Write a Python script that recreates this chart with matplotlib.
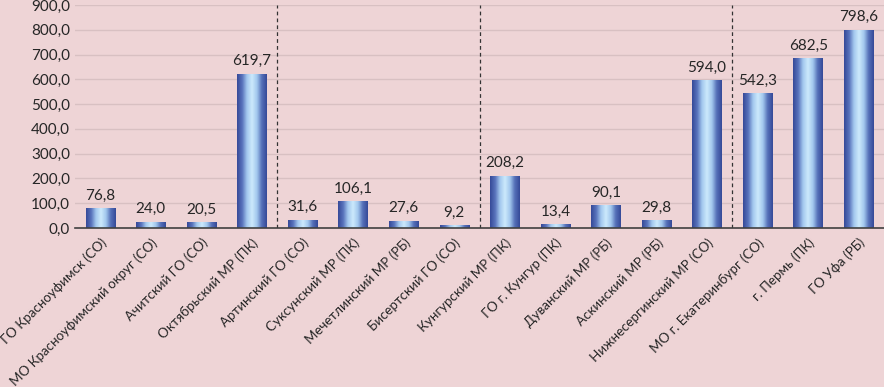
import matplotlib
matplotlib.use('Agg')
import matplotlib.pyplot as plt
import numpy as np
from matplotlib.colors import LinearSegmentedColormap

plt.rcParams['font.family'] = ['Lato', 'Open Sans', 'DejaVu Sans']

# data
names = ['ГО Красноуфимск (СО)', 'МО Красноуфимский округ (СО)', 'Ачитский ГО (СО)',
         'Октябрьский МР (ПК)', 'Артинский ГО (СО)', 'Суксунский МР (ПК)',
         'Мечетлинский МР (РБ)', 'Бисертский ГО (СО)', 'Кунгурский МР (ПК)',
         'ГО г. Кунгур (ПК)', 'Дуванский МР (РБ)', 'Аскинский МР (РБ)',
         'Нижнесергинский МР (СО)', 'МО г. Екатеринбург (СО)', 'г. Пермь (ПК)',
         'ГО Уфа (РБ)']
values = [76.8, 24.0, 20.5, 619.7, 31.6, 106.1, 27.6, 9.2,
          208.2, 13.4, 90.1, 29.8, 594.0, 542.3, 682.5, 798.6]
separators = [3.5, 7.5, 12.5]
yticks = [0, 100, 200, 300, 400, 500, 600, 700, 800, 900]

bg = '#eed4d6'
# shaded cylinder look of the bars
cyl = LinearSegmentedColormap.from_list(
    'cyl', ['#364a99', '#5872bb', '#a3c8ee', '#cdeafc', '#a3c8ee', '#5570b8', '#364a99'])
grad = np.linspace(0, 1, 64).reshape(1, -1)

fig = plt.figure(figsize=(8.84, 3.87), dpi=100, facecolor=bg)
ax = fig.add_axes([75 / 884, 1 - 228 / 387, 809 / 884, 223 / 387])
ax.set_facecolor(bg)

x = np.arange(len(values))
w = 0.58
bars = ax.bar(x, values, width=w, color='none', edgecolor='none', zorder=3)
for b in bars:
    x0, y0 = b.get_x(), b.get_y()
    ax.imshow(grad, cmap=cyl, aspect='auto', zorder=3,
              extent=[x0, x0 + b.get_width(), y0, y0 + b.get_height()])
for i, v in enumerate(values):
    ax.text(i, v + 25, f'{v:.1f}'.replace('.', ','), ha='center', va='bottom',
            fontsize=11, color='#262626', zorder=4)

for s in separators:
    ax.axvline(s, color='#333333', lw=0.9, ls=(0, (3, 2.5)), zorder=2)

ax.set_xlim(-0.5, len(values) - 0.5)
ax.set_ylim(0, 900)
ax.set_yticks(yticks)
ax.set_yticklabels([f'{t:.1f}'.replace('.', ',') for t in yticks], fontsize=11, color='#262626')
ax.grid(axis='y', color='#d8c0c2', lw=1, zorder=0)
ax.set_xticks(x)
ax.set_xticklabels(names, rotation=45, ha='right', rotation_mode='anchor',
                   fontsize=9.6, color='#262626')
ax.tick_params(axis='both', length=0)
ax.tick_params(axis='x', pad=6)
for side in ['top', 'right', 'left']:
    ax.spines[side].set_visible(False)
ax.spines['bottom'].set_color('#404040')
ax.spines['bottom'].set_linewidth(1.2)
ax.spines['bottom'].set_zorder(5)

fig.savefig('out.png', dpi=100, facecolor=bg)
